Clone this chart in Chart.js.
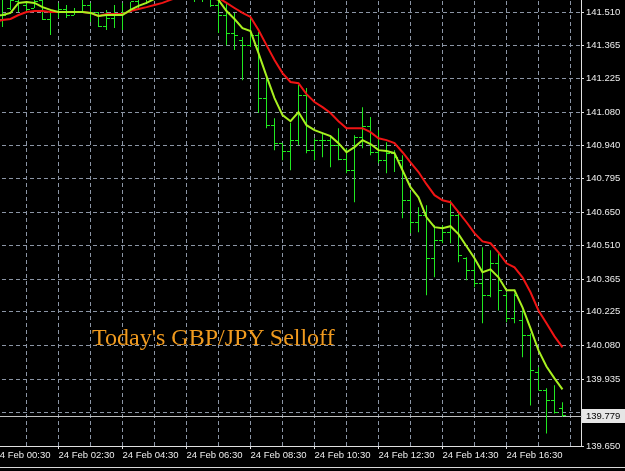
<!DOCTYPE html>
<html>
<head>
<meta charset="utf-8">
<title>GBP/JPY M15</title>
<script src="https://cdn.jsdelivr.net/npm/chart.js@4.4.1/dist/chart.umd.min.js"></script>
<style>
    html, body { margin: 0; padding: 0; background: #000; overflow: hidden; }
    #wrap { position: relative; width: 625px; height: 471px; overflow: hidden; background: #000; }
    #chart { position: absolute; left: -40px; top: -20px; }
    #note {
        position: absolute; left: 92px; top: 325px;
        font: 24px 'Liberation Serif', 'Times New Roman', serif;
        line-height: 24px; color: #f09a1e; white-space: nowrap;
    }
    #edge { position: absolute; left: 0; top: 467px; width: 625px; height: 1px; background: #d8d8d8; }
</style>
</head>
<body>
<div id="wrap">
    <canvas id="chart" width="665" height="491"></canvas>
    <div id="note">Today's GBP/JPY Selloff</div>
    <div id="edge"></div>
</div>
<script>
// M15 bars, 24 Feb
const dayLabel = '24 Feb';
const times = [
    '00:30', '00:45', '01:00', '01:15', '01:30', '01:45', '02:00', '02:15', '02:30', '02:45',
    '03:00', '03:15', '03:30', '03:45', '04:00', '04:15', '04:30', '04:45', '05:00', '05:15',
    '05:30', '05:45', '06:00', '06:15', '06:30', '06:45', '07:00', '07:15', '07:30', '07:45',
    '08:00', '08:15', '08:30', '08:45', '09:00', '09:15', '09:30', '09:45', '10:00', '10:15',
    '10:30', '10:45', '11:00', '11:15', '11:30', '11:45', '12:00', '12:15', '12:30', '12:45',
    '13:00', '13:15', '13:30', '13:45', '14:00', '14:15', '14:30', '14:45', '15:00', '15:15',
    '15:30', '15:45', '16:00', '16:15', '16:30', '16:45', '17:00', '17:15', '17:30', '17:45',
    '18:00', '18:15'
];

const barOpen = [
    141.519, 141.476, 141.527, 141.553, 141.540, 141.527, 141.561, 141.480, 141.506, 141.519,
    141.497, 141.514, 141.540, 141.506, 141.450, 141.484, 141.501, 141.510, 141.553, 141.574,
    141.596, 141.613, 141.647, 141.622, 141.639, 141.604, 141.583, 141.570, 141.540, 141.493,
    141.420, 141.390, 141.368, 141.411, 141.141, 141.025, 140.948, 140.914, 140.961, 141.154,
    140.918, 140.961, 140.961, 140.939, 140.879, 140.832, 140.974, 141.021, 140.909, 140.875,
    140.905, 140.875, 140.703, 140.609, 140.639, 140.455, 140.530, 140.566, 140.639, 140.455,
    140.403, 140.347, 140.296, 140.433, 140.296, 140.197, 140.189, 140.124, 139.965, 139.888,
    139.845, 139.811
];
const barHigh = [
    141.540, 141.574, 141.596, 141.604, 141.549, 141.583, 141.583, 141.519, 141.549, 141.540,
    141.527, 141.570, 141.549, 141.510, 141.519, 141.540, 141.549, 141.553, 141.587, 141.613,
    141.639, 141.665, 141.673, 141.656, 141.669, 141.626, 141.613, 141.596, 141.574, 141.549,
    141.506, 141.403, 141.484, 141.424, 141.227, 141.055, 140.948, 141.034, 141.197, 141.184,
    140.969, 140.991, 140.982, 141.012, 140.926, 140.982, 141.102, 141.060, 141.004, 140.952,
    140.918, 140.896, 140.738, 140.673, 140.682, 140.596, 140.596, 140.703, 140.647, 140.459,
    140.459, 140.502, 140.489, 140.476, 140.309, 140.304, 140.231, 140.133, 139.987, 139.897,
    139.910, 139.837
];
const barLow = [
    141.454, 141.446, 141.519, 141.510, 141.506, 141.527, 141.476, 141.411, 141.484, 141.484,
    141.497, 141.510, 141.467, 141.446, 141.433, 141.441, 141.433, 141.510, 141.519, 141.544,
    141.561, 141.583, 141.596, 141.583, 141.587, 141.553, 141.553, 141.531, 141.420, 141.368,
    141.347, 141.218, 141.360, 141.077, 141.012, 140.918, 140.875, 140.832, 140.939, 140.905,
    140.875, 140.888, 140.845, 140.875, 140.819, 140.695, 140.926, 140.896, 140.862, 140.819,
    140.824, 140.626, 140.562, 140.566, 140.296, 140.373, 140.519, 140.519, 140.437, 140.360,
    140.330, 140.176, 140.287, 140.231, 140.180, 140.176, 140.030, 139.824, 139.888, 139.704,
    139.789, 139.774
];
const barClose = [
    141.476, 141.493, 141.561, 141.583, 141.519, 141.553, 141.480, 141.506, 141.519, 141.497,
    141.514, 141.540, 141.506, 141.450, 141.484, 141.501, 141.510, 141.553, 141.574, 141.596,
    141.613, 141.647, 141.622, 141.639, 141.604, 141.583, 141.570, 141.540, 141.493, 141.420,
    141.411, 141.368, 141.411, 141.141, 141.025, 140.948, 140.914, 140.961, 141.154, 140.918,
    140.961, 140.961, 140.939, 140.879, 140.832, 140.974, 141.021, 140.909, 140.875, 140.905,
    140.888, 140.703, 140.609, 140.639, 140.455, 140.530, 140.566, 140.639, 140.467, 140.403,
    140.347, 140.296, 140.433, 140.317, 140.197, 140.296, 140.124, 139.974, 139.888, 139.845,
    139.794, 139.779
];

// moving averages (fast = yellow-green, slow = red)
const maFast = [
    141.493, 141.497, 141.506, 141.549, 141.553, 141.549, 141.531, 141.519, 141.510, 141.510,
    141.510, 141.510, 141.506, 141.493, 141.497, 141.497, 141.497, 141.519, 141.536, 141.549,
    141.566, 141.592, 141.613, 141.626, 141.626, 141.613, 141.592, 141.574, 141.562, 141.514,
    141.480, 141.441, 141.428, 141.334, 141.235, 141.141, 141.068, 141.042, 141.081, 141.025,
    141.004, 140.991, 140.978, 140.948, 140.909, 140.931, 140.961, 140.944, 140.918, 140.914,
    140.905, 140.832, 140.759, 140.716, 140.630, 140.588, 140.583, 140.592, 140.558, 140.506,
    140.455, 140.395, 140.407, 140.373, 140.317, 140.317, 140.244, 140.154, 140.060, 139.991,
    139.940, 139.893
];
const maSlow = [
    141.467, 141.476, 141.480, 141.497, 141.510, 141.514, 141.514, 141.510, 141.510, 141.510,
    141.510, 141.510, 141.506, 141.493, 141.501, 141.501, 141.501, 141.514, 141.523, 141.531,
    141.540, 141.549, 141.562, 141.574, 141.583, 141.587, 141.587, 141.583, 141.570, 141.549,
    141.527, 141.506, 141.489, 141.433, 141.368, 141.304, 141.248, 141.210, 141.205, 141.158,
    141.124, 141.102, 141.077, 141.042, 141.012, 141.012, 141.012, 140.995, 140.969, 140.961,
    140.948, 140.909, 140.866, 140.824, 140.772, 140.725, 140.703, 140.695, 140.652, 140.609,
    140.562, 140.527, 140.519, 140.480, 140.433, 140.416, 140.373, 140.309, 140.231, 140.176,
    140.120, 140.073
];

const priceTicks = [
    141.510, 141.365, 141.225, 141.080, 140.940, 140.795, 140.650,
    140.510, 140.365, 140.225, 140.080, 139.935, 139.795, 139.650
];
const bidPrice = 139.779;

// colours
const BG = '#000000';
const GRID = '#8b95a5';
const AXIS = '#e0e0e0';
const TEXT = '#ececec';
const BAR_GREEN = '#20e820';
const MA_FAST = '#a8f020';
const MA_SLOW = '#f01414';
const FONT = { family: "'Liberation Sans', Arial, sans-serif", size: 9.5 };

// canvas layout: 8px per 15 minute bar, 00:30 bar sits 34.5px into the plot
const pxPerMinute = 8 / 15;
const firstTickPx = 34.5;
const plotWidth = 621;
const xMin = 30 - firstTickPx / pxPerMinute;
const xMax = 30 + (plotWidth - firstTickPx) / pxPerMinute;

// price range: 141.510 sits 32px below the top of the plot, 139.650 on the bottom edge
const plotHeight = 466;
const pricePerPx = (141.510 - 139.650) / (plotHeight - 32);
const yMax = 141.510 + 32 * pricePerPx;
const yMin = 139.650;

function toMinutes(t) {
    const [h, m] = t.split(':').map(Number);
    return h * 60 + m;
}
function fmtTime(v) {
    const h = Math.floor(v / 60), m = Math.round(v % 60);
    return String(h).padStart(2, '0') + ':' + String(m).padStart(2, '0');
}

const mins = times.map(toMinutes);
const lastBar = mins[mins.length - 1];
const pts = arr => arr.map((v, i) => ({ x: mins[i], y: v }));

// time labels every two hours, none past the last bar
const isLabelled = v => v !== undefined && v <= lastBar && ((v - 30) % 120 + 120) % 120 === 0;

// open tick on the left of the bar, close tick on the right
function makeTick(side) {
    const c = document.createElement('canvas');
    c.width = 7;
    c.height = 1;
    const g = c.getContext('2d');
    g.fillStyle = BAR_GREEN;
    g.fillRect(side === 'left' ? 0 : 4, 0, 3, 1);
    return c;
}

const hourTicks = [];
for (let m = 30; m <= xMax; m += 60) hourTicks.push(m);

const bidPlugin = {
    id: 'bidLine',
    beforeDraw(chart) {
        const { ctx } = chart;
        ctx.save();
        ctx.fillStyle = BG;
        ctx.fillRect(0, 0, chart.width, chart.height);
        ctx.restore();
    },
    beforeDatasetsDraw(chart) {
        const { ctx, chartArea, scales: { y } } = chart;
        const py = Math.round(y.getPixelForValue(bidPrice)) + 0.5;
        ctx.save();
        ctx.strokeStyle = '#c0c0c0';
        ctx.lineWidth = 1;
        ctx.beginPath();
        ctx.moveTo(chartArea.left, py);
        ctx.lineTo(chartArea.right + 3, py);
        ctx.stroke();
        ctx.restore();
    },
    afterDraw(chart) {
        const { ctx, chartArea, scales: { y } } = chart;
        const py = Math.round(y.getPixelForValue(bidPrice));
        ctx.save();
        ctx.fillStyle = '#e6e6e6';
        ctx.fillRect(chartArea.right + 1, py - 7, 44, 14);
        ctx.fillStyle = '#000';
        ctx.font = `${FONT.size}px ${FONT.family}`;
        ctx.textBaseline = 'middle';
        ctx.fillText(bidPrice.toFixed(3), chartArea.right + 5, py + 0.5);
        ctx.restore();
    }
};

new Chart(document.getElementById('chart'), {
    type: 'line',
    data: {
        datasets: [
            {
                type: 'line', label: 'MA fast', data: pts(maFast),
                borderColor: MA_FAST, borderWidth: 2, pointRadius: 0, tension: 0, fill: false, order: 0
            },
            {
                type: 'line', label: 'MA slow', data: pts(maSlow),
                borderColor: MA_SLOW, borderWidth: 2, pointRadius: 0, tension: 0, fill: false, order: 1
            },
            {
                type: 'bar', label: 'High-Low',
                data: mins.map((m, i) => ({ x: m, y: [barLow[i], barHigh[i]] })),
                backgroundColor: BAR_GREEN, borderWidth: 0, barThickness: 1, inflateAmount: 0, order: 2
            },
            {
                type: 'scatter', label: 'Open', data: pts(barOpen),
                pointStyle: makeTick('left'), pointRadius: 3, order: 2
            },
            {
                type: 'scatter', label: 'Close', data: pts(barClose),
                pointStyle: makeTick('right'), pointRadius: 3, order: 2
            }
        ]
    },
    options: {
        responsive: false,
        devicePixelRatio: 1,
        animation: false,
        events: [],
        layout: { padding: 0, autoPadding: false },
        plugins: {
            legend: { display: false },
            tooltip: { enabled: false },
            title: { display: false }
        },
        scales: {
            x: {
                type: 'linear',
                position: 'bottom',
                min: xMin,
                max: xMax,
                offset: false,
                afterBuildTicks: s => { s.ticks = hourTicks.map(v => ({ value: v })); },
                afterFit: s => {
                    s.height = 25;
                    s.paddingLeft = s.paddingRight = s.paddingTop = s.paddingBottom = 0;
                },
                grid: {
                    color: GRID, lineWidth: 1, offset: false,
                    drawTicks: true, tickLength: 3,
                    tickColor: ctx => (ctx.tick && isLabelled(ctx.tick.value)) ? AXIS : 'rgba(0,0,0,0)'
                },
                border: { display: true, color: AXIS, width: 1, dash: [4, 3] },
                ticks: {
                    autoSkip: false, maxRotation: 0, minRotation: 0,
                    align: 'start', padding: 1, color: TEXT, font: FONT,
                    callback: v => isLabelled(v) ? dayLabel + ' ' + fmtTime(v) : ''
                }
            },
            y: {
                type: 'linear',
                position: 'right',
                min: yMin,
                max: yMax,
                beginAtZero: false,
                afterBuildTicks: s => { s.ticks = priceTicks.map(v => ({ value: v })); },
                afterFit: s => {
                    s.width = 44;
                    s.paddingLeft = s.paddingRight = s.paddingTop = s.paddingBottom = 0;
                },
                grid: { color: GRID, lineWidth: 1, drawTicks: true, tickLength: 3, tickColor: AXIS },
                border: { display: true, color: AXIS, width: 1, dash: [4, 3] },
                ticks: {
                    padding: 2, color: TEXT, font: FONT,
                    callback: v => Number(v).toFixed(3)
                }
            }
        }
    },
    plugins: [bidPlugin]
});
</script>
</body>
</html>
